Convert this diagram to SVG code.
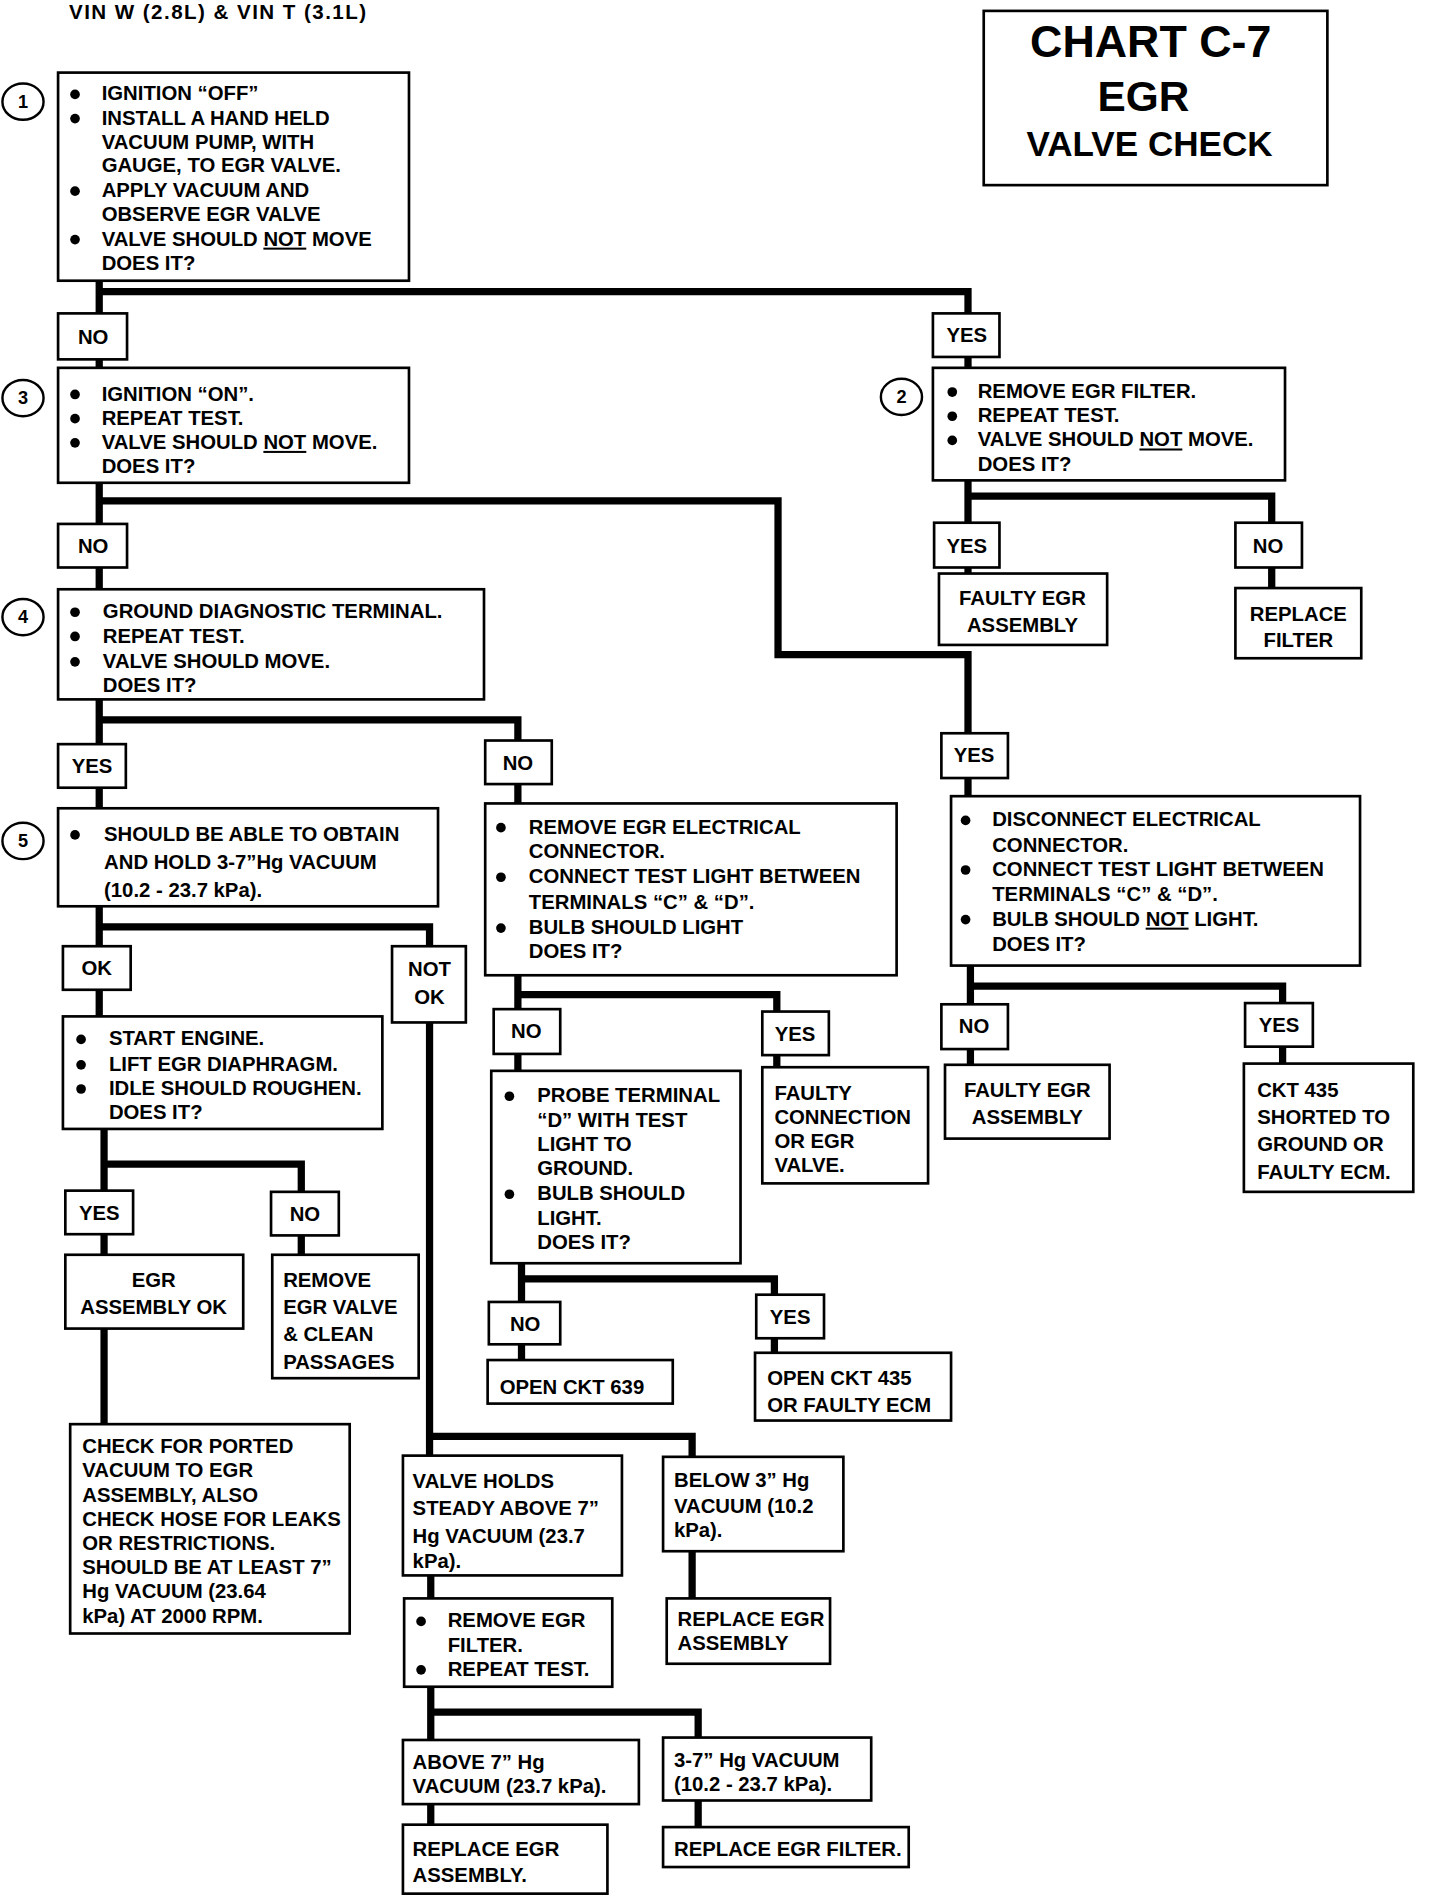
<svg xmlns="http://www.w3.org/2000/svg" width="1440" height="1896" viewBox="0 0 1440 1896">
<style>
.bx{fill:#fff;stroke:#000;stroke-width:2.2}
.cn{fill:none;stroke:#000;stroke-width:6;stroke-linejoin:miter}
.num{fill:#fff;stroke:#000;stroke-width:2}
text{font-family:"Liberation Sans",Arial,sans-serif;font-weight:bold;font-size:16.8px;fill:#000}
.c{text-anchor:middle}
.n{font-size:15px;text-anchor:middle}
.u{text-decoration:underline}
.dot{fill:#000}
</style>
<rect x="0" y="0" width="1440" height="1896" fill="#fff"/>
<g transform="scale(1.21)">
<g id="header"><text x="57" y="16" style="font-size:17px;letter-spacing:1.2px">VIN W (2.8L) &amp; VIN T (3.1L)</text></g>
<g id="title">
<rect class="bx" x="813" y="9" width="284" height="144"/>
<text class="c" x="951" y="47" style="font-size:37px">CHART C-7</text>
<text class="c" x="945" y="92" style="font-size:35px">EGR</text>
<text class="c" x="950" y="129" style="font-size:29px">VALVE CHECK</text>
</g>
<g id="connectors">
<path class="cn" d="M82,232 V304"/>
<path class="cn" d="M82,241 H800 V304"/>
<path class="cn" d="M82,399 V487"/>
<path class="cn" d="M82,414 H643 V541 H800 V658"/>
<path class="cn" d="M800,397 V474"/>
<path class="cn" d="M800,410 H1051 V486"/>
<path class="cn" d="M82,578 V668"/>
<path class="cn" d="M82,595 H428 V664"/>
<path class="cn" d="M802,798 V880"/>
<path class="cn" d="M802,815 H1060 V879"/>
<path class="cn" d="M428,806 V885"/>
<path class="cn" d="M428,822 H642 V882"/>
<path class="cn" d="M431,1044 V1124"/>
<path class="cn" d="M431,1057 H640 V1118"/>
<path class="cn" d="M82,749 V840"/>
<path class="cn" d="M82,766 H355 V782"/>
<path class="cn" d="M355,845 V1203"/>
<path class="cn" d="M355,1187 H572 V1204"/>
<path class="cn" d="M86,933 V1037"/>
<path class="cn" d="M86,962 H249 V1037"/>
<path class="cn" d="M86,1098 V1177"/>
<path class="cn" d="M572,1282 V1321"/>
<path class="cn" d="M356,1302 V1438"/>
<path class="cn" d="M356,1415 H577 V1436"/>
<path class="cn" d="M356,1491 V1508"/>
<path class="cn" d="M577,1488 V1510"/>
</g>
<g id="step1">
<ellipse class="num" cx="19" cy="84" rx="17" ry="15"/><text class="n" x="19" y="89">1</text>
<rect class="bx" x="48" y="60" width="290" height="172"/>
<circle class="dot" cx="62" cy="78" r="4"/><circle class="dot" cx="62" cy="98" r="4"/><circle class="dot" cx="62" cy="158" r="4"/><circle class="dot" cx="62" cy="198" r="4"/>
<text x="84" y="83">IGNITION “OFF”</text>
<text x="84" y="103">INSTALL A HAND HELD</text>
<text x="84" y="123">VACUUM PUMP, WITH</text>
<text x="84" y="142">GAUGE, TO EGR VALVE.</text>
<text x="84" y="163">APPLY VACUUM AND</text>
<text x="84" y="183">OBSERVE EGR VALVE</text>
<text x="84" y="203">VALVE SHOULD <tspan class="u">NOT</tspan> MOVE</text>
<text x="84" y="223">DOES IT?</text>
</g>
<g id="lbl-no1"><rect class="bx" x="48" y="259" width="57" height="38"/><text class="c" x="77" y="284">NO</text></g>
<g id="lbl-yes1"><rect class="bx" x="771" y="259" width="55" height="36"/><text class="c" x="799" y="283">YES</text></g>
<g id="step3">
<ellipse class="num" cx="19" cy="329" rx="17" ry="15"/><text class="n" x="19" y="334">3</text>
<rect class="bx" x="48" y="304" width="290" height="95"/>
<circle class="dot" cx="62" cy="326" r="4"/><circle class="dot" cx="62" cy="346" r="4"/><circle class="dot" cx="62" cy="366" r="4"/>
<text x="84" y="331">IGNITION “ON”.</text>
<text x="84" y="351">REPEAT TEST.</text>
<text x="84" y="371">VALVE SHOULD <tspan class="u">NOT</tspan> MOVE.</text>
<text x="84" y="391">DOES IT?</text>
</g>
<g id="step2">
<ellipse class="num" cx="745" cy="328" rx="17" ry="15"/><text class="n" x="745" y="333">2</text>
<rect class="bx" x="771" y="304" width="291" height="93"/>
<circle class="dot" cx="787" cy="324" r="4"/><circle class="dot" cx="787" cy="344" r="4"/><circle class="dot" cx="787" cy="364" r="4"/>
<text x="808" y="329">REMOVE EGR FILTER.</text>
<text x="808" y="349">REPEAT TEST.</text>
<text x="808" y="369">VALVE SHOULD <tspan class="u">NOT</tspan> MOVE.</text>
<text x="808" y="389">DOES IT?</text>
</g>
<g id="lbl-no2"><rect class="bx" x="48" y="433" width="57" height="36"/><text class="c" x="77" y="457">NO</text></g>
<g id="lbl-yes2"><rect class="bx" x="772" y="432" width="54" height="37"/><text class="c" x="799" y="457">YES</text></g>
<g id="lbl-no3"><rect class="bx" x="1021" y="432" width="55" height="37"/><text class="c" x="1048" y="457">NO</text></g>
<g id="faulty-egr-1"><rect class="bx" x="776" y="474" width="139" height="59"/><text class="c" x="845" y="500">FAULTY EGR</text><text class="c" x="845" y="522">ASSEMBLY</text></g>
<g id="replace-filter"><rect class="bx" x="1021" y="486" width="104" height="58"/><text class="c" x="1073" y="513">REPLACE</text><text class="c" x="1073" y="535">FILTER</text></g>
<g id="step4">
<ellipse class="num" cx="19" cy="510" rx="17" ry="15"/><text class="n" x="19" y="515">4</text>
<rect class="bx" x="48" y="487" width="352" height="91"/>
<circle class="dot" cx="62" cy="506" r="4"/><circle class="dot" cx="62" cy="526" r="4"/><circle class="dot" cx="62" cy="547" r="4"/>
<text x="85" y="511">GROUND DIAGNOSTIC TERMINAL.</text>
<text x="85" y="531">REPEAT TEST.</text>
<text x="85" y="552">VALVE SHOULD MOVE.</text>
<text x="85" y="572">DOES IT?</text>
</g>
<g id="lbl-yes3"><rect class="bx" x="48" y="615" width="56" height="36"/><text class="c" x="76" y="639">YES</text></g>
<g id="lbl-no4"><rect class="bx" x="401" y="612" width="55" height="36"/><text class="c" x="428" y="636">NO</text></g>
<g id="lbl-yes4"><rect class="bx" x="778" y="606" width="55" height="37"/><text class="c" x="805" y="630">YES</text></g>
<g id="step5">
<ellipse class="num" cx="19" cy="695" rx="17" ry="15"/><text class="n" x="19" y="700">5</text>
<rect class="bx" x="48" y="668" width="314" height="81"/>
<circle class="dot" cx="62" cy="690" r="4"/>
<text x="86" y="695">SHOULD BE ABLE TO OBTAIN</text>
<text x="86" y="718">AND HOLD 3-7”Hg VACUUM</text>
<text x="86" y="741">(10.2 - 23.7 kPa).</text>
</g>
<g id="remove-electrical">
<rect class="bx" x="401" y="664" width="340" height="142"/>
<circle class="dot" cx="414" cy="684" r="4"/><circle class="dot" cx="414" cy="725" r="4"/><circle class="dot" cx="414" cy="767" r="4"/>
<text x="437" y="689">REMOVE EGR ELECTRICAL</text>
<text x="437" y="709">CONNECTOR.</text>
<text x="437" y="730">CONNECT TEST LIGHT BETWEEN</text>
<text x="437" y="751">TERMINALS “C” &amp; “D”.</text>
<text x="437" y="772">BULB SHOULD LIGHT</text>
<text x="437" y="792">DOES IT?</text>
</g>
<g id="disconnect">
<rect class="bx" x="786" y="658" width="338" height="140"/>
<circle class="dot" cx="798" cy="678" r="4"/><circle class="dot" cx="798" cy="719" r="4"/><circle class="dot" cx="798" cy="760" r="4"/>
<text x="820" y="683">DISCONNECT ELECTRICAL</text>
<text x="820" y="704">CONNECTOR.</text>
<text x="820" y="724">CONNECT TEST LIGHT BETWEEN</text>
<text x="820" y="745">TERMINALS “C” &amp; “D”.</text>
<text x="820" y="765">BULB SHOULD <tspan class="u">NOT</tspan> LIGHT.</text>
<text x="820" y="786">DOES IT?</text>
</g>
<g id="lbl-ok"><rect class="bx" x="52" y="782" width="56" height="36"/><text class="c" x="80" y="806">OK</text></g>
<g id="lbl-notok"><rect class="bx" x="324" y="782" width="61" height="63"/><text class="c" x="355" y="807">NOT</text><text class="c" x="355" y="830">OK</text></g>
<g id="lbl-no5"><rect class="bx" x="408" y="834" width="55" height="37"/><text class="c" x="435" y="858">NO</text></g>
<g id="lbl-yes5"><rect class="bx" x="630" y="836" width="55" height="36"/><text class="c" x="657" y="860">YES</text></g>
<g id="lbl-no6"><rect class="bx" x="778" y="830" width="55" height="37"/><text class="c" x="805" y="854">NO</text></g>
<g id="lbl-yes6"><rect class="bx" x="1029" y="829" width="56" height="36"/><text class="c" x="1057" y="853">YES</text></g>
<g id="start-engine">
<rect class="bx" x="52" y="840" width="264" height="93"/>
<circle class="dot" cx="67" cy="859" r="4"/><circle class="dot" cx="67" cy="880" r="4"/><circle class="dot" cx="67" cy="900" r="4"/>
<text x="90" y="864">START ENGINE.</text>
<text x="90" y="885">LIFT EGR DIAPHRAGM.</text>
<text x="90" y="905">IDLE SHOULD ROUGHEN.</text>
<text x="90" y="925">DOES IT?</text>
</g>
<g id="probe">
<rect class="bx" x="406" y="885" width="206" height="159"/>
<circle class="dot" cx="421" cy="906" r="4"/><circle class="dot" cx="421" cy="987" r="4"/>
<text x="444" y="911">PROBE TERMINAL</text>
<text x="444" y="931">“D” WITH TEST</text>
<text x="444" y="951">LIGHT TO</text>
<text x="444" y="971">GROUND.</text>
<text x="444" y="992">BULB SHOULD</text>
<text x="444" y="1012">LIGHT.</text>
<text x="444" y="1032">DOES IT?</text>
</g>
<g id="faulty-connection"><rect class="bx" x="630" y="882" width="137" height="96"/>
<text x="640" y="909">FAULTY</text><text x="640" y="929">CONNECTION</text><text x="640" y="949">OR EGR</text><text x="640" y="969">VALVE.</text></g>
<g id="faulty-egr-2"><rect class="bx" x="781" y="880" width="136" height="61"/><text class="c" x="849" y="907">FAULTY EGR</text><text class="c" x="849" y="929">ASSEMBLY</text></g>
<g id="ckt435-short"><rect class="bx" x="1028" y="879" width="140" height="106"/>
<text x="1039" y="907">CKT 435</text><text x="1039" y="929">SHORTED TO</text><text x="1039" y="951">GROUND OR</text><text x="1039" y="974">FAULTY ECM.</text></g>
<g id="lbl-yes7"><rect class="bx" x="54" y="984" width="56" height="36"/><text class="c" x="82" y="1008">YES</text></g>
<g id="lbl-no7"><rect class="bx" x="224" y="985" width="56" height="36"/><text class="c" x="252" y="1009">NO</text></g>
<g id="lbl-no8"><rect class="bx" x="404" y="1076" width="59" height="35"/><text class="c" x="434" y="1100">NO</text></g>
<g id="lbl-yes8"><rect class="bx" x="625" y="1070" width="56" height="36"/><text class="c" x="653" y="1094">YES</text></g>
<g id="egr-ok"><rect class="bx" x="54" y="1037" width="147" height="61"/><text class="c" x="127" y="1064">EGR</text><text class="c" x="127" y="1086">ASSEMBLY OK</text></g>
<g id="remove-valve"><rect class="bx" x="225" y="1037" width="121" height="102"/>
<text x="234" y="1064">REMOVE</text><text x="234" y="1086">EGR VALVE</text><text x="234" y="1108">&amp; CLEAN</text><text x="234" y="1131">PASSAGES</text></g>
<g id="open639"><rect class="bx" x="403" y="1124" width="153" height="36"/><text x="413" y="1152">OPEN CKT 639</text></g>
<g id="open435"><rect class="bx" x="624" y="1118" width="162" height="56"/><text x="634" y="1145">OPEN CKT 435</text><text x="634" y="1167">OR FAULTY ECM</text></g>
<g id="check-ported"><rect class="bx" x="58" y="1177" width="231" height="173"/>
<text x="68" y="1201">CHECK FOR PORTED</text>
<text x="68" y="1221">VACUUM TO EGR</text>
<text x="68" y="1241">ASSEMBLY, ALSO</text>
<text x="68" y="1261">CHECK HOSE FOR LEAKS</text>
<text x="68" y="1281">OR RESTRICTIONS.</text>
<text x="68" y="1301">SHOULD BE AT LEAST 7”</text>
<text x="68" y="1321">Hg  VACUUM (23.64</text>
<text x="68" y="1341">kPa) AT 2000 RPM.</text>
</g>
<g id="valve-holds"><rect class="bx" x="333" y="1203" width="181" height="99"/>
<text x="341" y="1230">VALVE HOLDS</text><text x="341" y="1252">STEADY ABOVE 7”</text><text x="341" y="1275">Hg VACUUM (23.7</text><text x="341" y="1296">kPa).</text></g>
<g id="below3"><rect class="bx" x="548" y="1204" width="149" height="78"/>
<text x="557" y="1229">BELOW 3” Hg</text><text x="557" y="1250">VACUUM (10.2</text><text x="557" y="1270">kPa).</text></g>
<g id="replace-assembly-1"><rect class="bx" x="551" y="1321" width="135" height="54"/>
<text x="560" y="1344">REPLACE EGR</text><text x="560" y="1364">ASSEMBLY</text></g>
<g id="remove-filter"><rect class="bx" x="334" y="1321" width="172" height="73"/>
<circle class="dot" cx="348" cy="1340" r="4"/><circle class="dot" cx="348" cy="1380" r="4"/>
<text x="370" y="1345">REMOVE EGR</text><text x="370" y="1365">FILTER.</text><text x="370" y="1385">REPEAT TEST.</text></g>
<g id="above7"><rect class="bx" x="333" y="1438" width="195" height="53"/>
<text x="341" y="1462">ABOVE 7” Hg</text><text x="341" y="1482">VACUUM (23.7 kPa).</text></g>
<g id="range37"><rect class="bx" x="548" y="1436" width="172" height="52"/>
<text x="557" y="1460">3-7” Hg VACUUM</text><text x="557" y="1480">(10.2 - 23.7 kPa).</text></g>
<g id="replace-assembly-2"><rect class="bx" x="333" y="1508" width="169" height="57"/>
<text x="341" y="1534">REPLACE EGR</text><text x="341" y="1555">ASSEMBLY.</text></g>
<g id="replace-filter-2"><rect class="bx" x="548" y="1510" width="203" height="33"/>
<text x="557" y="1534">REPLACE EGR FILTER.</text></g>
</g>
</svg>
